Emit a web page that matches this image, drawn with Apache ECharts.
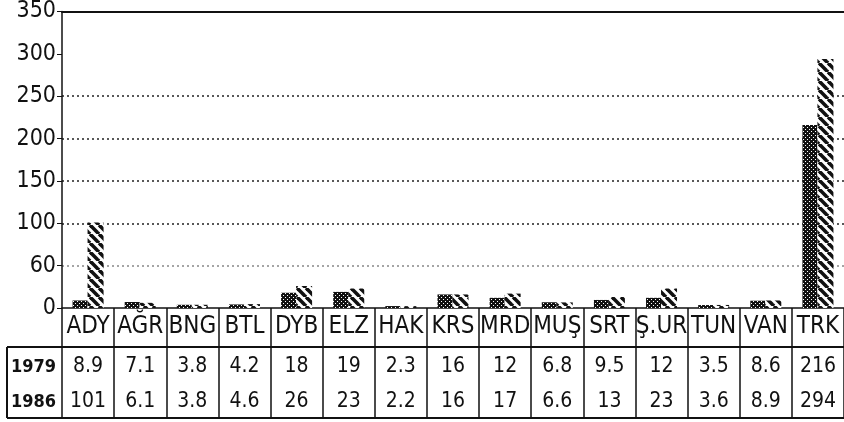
<!DOCTYPE html>
<html>
<head>
<meta charset="utf-8">
<script src="https://cdn.jsdelivr.net/npm/echarts@6/dist/echarts.min.js"></script>
<style>
  html, body { margin: 0; padding: 0; background: #fff; }
  #chart { width: 844px; height: 422px; }
</style>
</head>
<body>
<div id="chart"></div>
<script>
// iller ve yillara gore degerler
var categories = ['ADY', 'AĞR', 'BNG', 'BTL', 'DYB', 'ELZ', 'HAK', 'KRS', 'MRD', 'MUŞ', 'SRT', 'Ş.UR', 'TUN', 'VAN', 'TRK'];
var years = ['1979', '1986'];
var values1979 = [8.9, 7.1, 3.8, 4.2, 18, 19, 2.3, 16, 12, 6.8, 9.5, 12, 3.5, 8.6, 216];
var values1986 = [101, 6.1, 3.8, 4.6, 26, 23, 2.2, 16, 17, 6.6, 13, 23, 3.6, 8.9, 294];
var yTickLabels = ['0', '60', '100', '150', '200', '250', '300', '350'];

var FONT = '"DejaVu Sans Condensed", "Liberation Sans Narrow", "Roboto Condensed", sans-serif';
var gridLeft = 62, gridTop = 7, axisY = 308, tableTop = 347, tableBottom = 418;

// dolgu desenleri
function checkerPattern() {
  var c = document.createElement('canvas');
  c.width = 4; c.height = 4;
  var ctx = c.getContext('2d');
  ctx.fillStyle = '#111';
  ctx.fillRect(0, 0, 4, 4);
  ctx.fillStyle = '#fff';
  ctx.fillRect(1, 1, 1, 1);
  ctx.fillRect(3, 3, 1, 1);
  return c;
}
function hatchPattern() {
  var s = 9;
  var c = document.createElement('canvas');
  c.width = s; c.height = s;
  var ctx = c.getContext('2d');
  ctx.fillStyle = '#fff';
  ctx.fillRect(0, 0, s, s);
  ctx.strokeStyle = '#111';
  ctx.lineWidth = 3.6;
  [-s, 0, s].forEach(function (k) {
    ctx.beginPath();
    ctx.moveTo(k, 0);
    ctx.lineTo(k + s, s);
    ctx.stroke();
  });
  return c;
}

var chart = echarts.init(document.getElementById('chart'));

function rowLabel(arr) {
  return function (value, index) { return String(arr[index]); };
}

// tablo satir basliklari
function rowHeader(text, y) {
  return {
    text: text,
    left: 11,
    top: y - 12,
    padding: 0,
    textStyle: { color: '#111', fontFamily: FONT, fontWeight: 'bold', fontSize: 18, lineHeight: 24 }
  };
}

var option = {
  animation: false,
  title: [rowHeader(years[0], 367), rowHeader(years[1], 402)],
  grid: { left: gridLeft, right: 0, top: gridTop, bottom: 422 - axisY },
  xAxis: [
    {
      type: 'category',
      data: categories,
      axisLine: { lineStyle: { color: '#111', width: 1.5 } },
      axisTick: { show: true, alignWithLabel: false, length: tableBottom - axisY, lineStyle: { color: '#111', width: 1.5 } },
      axisLabel: { color: '#111', fontFamily: FONT, fontSize: 24, margin: 19, verticalAlign: 'middle', interval: 0 }
    },
    {
      type: 'category',
      data: categories,
      position: 'bottom',
      offset: 367 - axisY,
      axisLine: { show: false },
      axisTick: { show: false },
      axisLabel: { color: '#111', fontFamily: FONT, fontSize: 21, margin: 0, verticalAlign: 'middle', interval: 0, formatter: rowLabel(values1979) }
    },
    {
      type: 'category',
      data: categories,
      position: 'bottom',
      offset: 402 - axisY,
      axisLine: { show: false },
      axisTick: { show: false },
      axisLabel: { color: '#111', fontFamily: FONT, fontSize: 21, margin: 0, verticalAlign: 'middle', interval: 0, formatter: rowLabel(values1986) }
    },
    {
      type: 'category',
      data: categories,
      position: 'top',
      axisLine: { lineStyle: { color: '#111', width: 2 } },
      axisTick: { show: false },
      axisLabel: { show: false }
    }
  ],
  yAxis: {
    type: 'value',
    min: 0,
    max: 350,
    interval: 50,
    axisLine: { show: true, lineStyle: { color: '#111', width: 1.5 } },
    axisTick: { show: true, length: 5, lineStyle: { color: '#111' } },
    axisLabel: {
      color: '#111', fontFamily: FONT, fontSize: 23, margin: 6,
      formatter: function (v) { return yTickLabels[Math.round(v / 50)]; }
    },
    splitLine: {
      show: true,
      lineStyle: {
        type: [2, 3],
        width: 1.5,
        color: ['rgba(0,0,0,0)', '#888', '#222', '#222', '#222', '#222', 'rgba(0,0,0,0)', 'rgba(0,0,0,0)']
      }
    }
  },
  series: [
    {
      name: years[0],
      type: 'bar',
      data: values1979,
      barWidth: 15,
      barGap: '0%',
      itemStyle: { color: { image: checkerPattern(), repeat: 'repeat' } }
    },
    {
      name: years[1],
      type: 'bar',
      data: values1986,
      barWidth: 16,
      itemStyle: { color: { image: hatchPattern(), repeat: 'repeat' } }
    }
  ],
  graphic: [
    { type: 'line', shape: { x1: 7, y1: tableTop, x2: 844, y2: tableTop }, style: { stroke: '#111', lineWidth: 2 } },
    { type: 'line', shape: { x1: 7, y1: tableBottom, x2: 844, y2: tableBottom }, style: { stroke: '#111', lineWidth: 2 } },
    { type: 'line', shape: { x1: 7, y1: tableTop, x2: 7, y2: tableBottom }, style: { stroke: '#111', lineWidth: 2 } }
  ]
};

chart.setOption(option);
</script>
</body>
</html>
